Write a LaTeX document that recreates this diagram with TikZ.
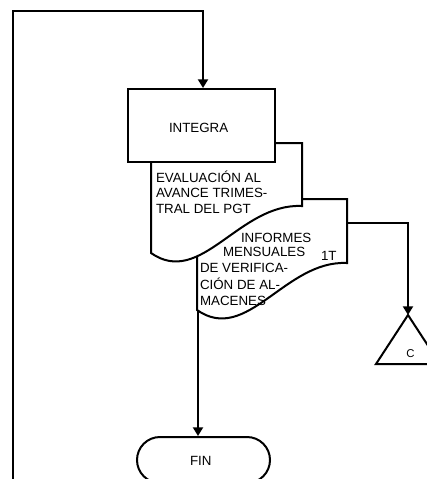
\documentclass[tikz,border=0pt]{standalone}
\usepackage{fontspec}
\setmainfont{Liberation Sans}
\usetikzlibrary{arrows.meta,shapes.misc}
\begin{document}
\begin{tikzpicture}[x=0.75pt,y=-0.75pt,line width=1.5pt,line join=miter,
  lbl/.style={anchor=base west,inner sep=0pt,font=\fontsize{10}{12}\selectfont},
  flow/.style={-{Triangle[length=6.5pt,width=7.5pt]}},
  sheet/.style={draw,fill=white}]
\useasboundingbox (0,0) rectangle (427,479);

% stacked documents: lower sheet first, upper sheet over it
\path[sheet] (197,199) -- (347,199) -- (347,263)
  .. controls (285,260) and (247,345) .. (197,310) -- cycle;
\path[sheet] (151,143) -- (302,143) -- (302,206)
  .. controls (239,203) and (201,288) .. (151,253) -- cycle;

% process box
\node[draw,fill=white,minimum width=110.25pt,minimum height=54.75pt,inner sep=0pt]
  (integra) at (201.5,125.5) {};
\node[lbl] (tintegra) at (168,132) {INTEGRA};

% texts of the two sheets
\node[lbl] (ev1) at (155,182) {EVALUACIÓN AL};
\node[lbl] (ev2) at (155,197) {AVANCE TRIMES-};
\node[lbl] (ev3) at (155,213) {TRAL DEL PGT};
\node[lbl] (in1) at (240,242) {INFORMES};
\node[lbl] (in2) at (222,256) {MENSUALES};
\node[lbl] (in3) at (199,272) {DE VERIFICA-};
\node[lbl] (in4) at (199,289) {CIÓN DE AL-};
\node[lbl] (in5) at (199,305) {MACENES};
\node[lbl] (per) at (320,260) {1T};

% off-page connector
\coordinate (tri) at (408,315);
\draw (tri) -- (376,364) -- (440,364) -- cycle;
\node[anchor=base,inner sep=0pt,font=\fontsize{8.5}{10}\selectfont] (tc) at (410.5,357.5) {C};

% terminator
\node[draw,fill=white,rounded rectangle,minimum width=99.75pt,minimum height=34.5pt,inner sep=0pt]
  (fin) at (203.5,460) {};
\node[lbl] (tfin) at (189,465) {FIN};

% connectors
\coordinate (loop) at (13,482);
\coordinate (topc) at (203,11);
\draw[flow] (loop) |- (topc) -- (topc |- integra.north);
\coordinate (d2r) at (347,223);
\draw[flow] (d2r) -| (tri);
\coordinate (d2b) at (198,310.5);
\draw[flow] (d2b) -- (d2b |- fin.north);
\end{tikzpicture}
\end{document}
